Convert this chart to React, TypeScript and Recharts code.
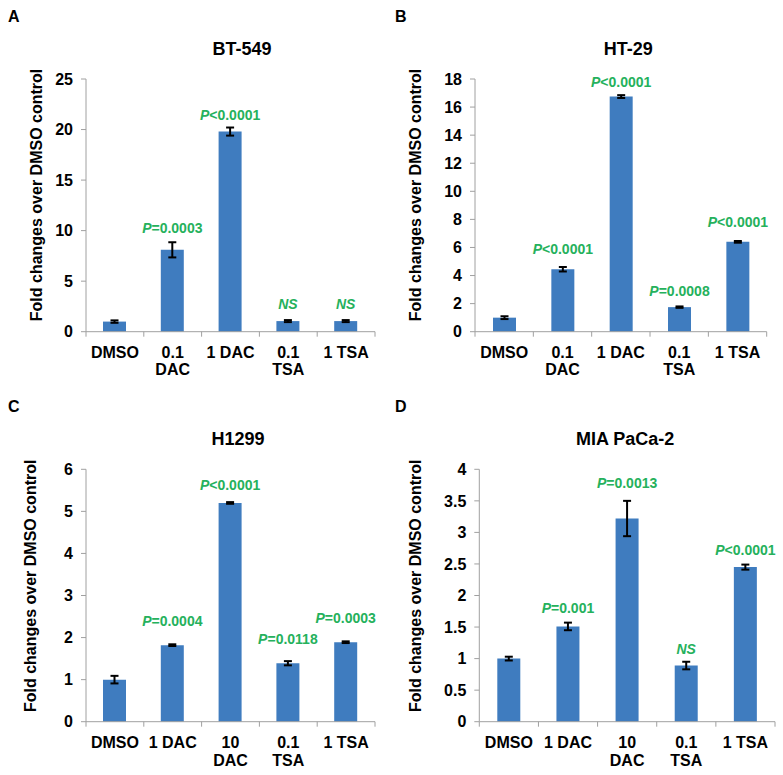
import React from 'react';
import { BarChart, Bar, XAxis, YAxis, ErrorBar, LabelList, Label } from 'recharts';

// ---------- data ----------
const catsAB = ['DMSO', '0.1\nDAC', '1 DAC', '0.1\nTSA', '1 TSA'];
const catsCD = ['DMSO', '1 DAC', '10\nDAC', '0.1\nTSA', '1 TSA'];

const valsA = [1.0, 8.1, 19.8, 1.05, 1.05];
const errA = [0.12, 0.75, 0.4, 0.1, 0.1];
const pA = ['', 'P=0.0003', 'P<0.0001', 'NS', 'NS'];
const ticksA = [0, 5, 10, 15, 20, 25];

const valsB = [1.0, 4.45, 16.75, 1.75, 6.4];
const errB = [0.1, 0.16, 0.1, 0.05, 0.06];
const pB = ['', 'P<0.0001', 'P<0.0001', 'P=0.0008', 'P<0.0001'];
const ticksB = [0, 2, 4, 6, 8, 10, 12, 14, 16, 18];

const valsC = [1.0, 1.82, 5.2, 1.39, 1.89];
const errC = [0.09, 0.02, 0.02, 0.05, 0.02];
const pC = ['', 'P=0.0004', 'P<0.0001', 'P=0.0118', 'P=0.0003'];
const ticksC = [0, 1, 2, 3, 4, 5, 6];

const valsD = [1.0, 1.51, 3.22, 0.89, 2.45];
const errD = [0.03, 0.06, 0.28, 0.06, 0.04];
const pD = ['', 'P=0.001', 'P=0.0013', 'NS', 'P<0.0001'];
const ticksD = [0, 0.5, 1, 1.5, 2, 2.5, 3, 3.5, 4];

// ---------- style ----------
const FONT = '"Liberation Sans", Arial, Helvetica, sans-serif';
const BLUE = '#3f7cbf';
const GREEN = '#25b15c';
const AXIS = '#a0a0a0';

type Layout = {
  left: number; top: number; w: number; h: number;
  plotLeft: number; plotRight: number; plotTop: number; plotBottom: number;
  letter: string; letterX: number; letterY: number;
  title: string; titleX: number; titleY: number;
  yLabX: number; yLabY: number;
  line1: number; line2: number;
  lifts: number[];
};

const build = (cats: string[], vals: number[], errs: number[], ps: string[]) =>
  cats.map((c, i) => ({ cat: c, value: vals[i], err: errs[i], p: ps[i] }));

const panels: { data: any[]; ticks: number[]; L: Layout }[] = [
  {
    data: build(catsAB, valsA, errA, pA), ticks: ticksA,
    L: { left: 0, top: 0, w: 390, h: 380, plotLeft: 86, plotRight: 375, plotTop: 79, plotBottom: 331.7,
      letter: 'A', letterX: 8, letterY: 21.7, title: 'BT-549', titleX: 242, titleY: 55,
      yLabX: 41.7, yLabY: 195, line1: 26.3, line2: 43.3, lifts: [0, 9.5, 7.7, 10.8, 10.8] },
  },
  {
    data: build(catsAB, valsB, errB, pB), ticks: ticksB,
    L: { left: 390, top: 0, w: 393, h: 380, plotLeft: 85, plotRight: 376.7, plotTop: 79, plotBottom: 331.7,
      letter: 'B', letterX: 5, letterY: 21.7, title: 'HT-29', titleX: 238.3, titleY: 54.5,
      yLabX: 30.7, yLabY: 195, line1: 26.3, line2: 43.3, lifts: [0, 13, 7.8, 10.4, 14] },
  },
  {
    data: build(catsCD, valsC, errC, pC), ticks: ticksC,
    L: { left: 0, top: 380, w: 390, h: 395, plotLeft: 86, plotRight: 375, plotTop: 89.3, plotBottom: 341.7,
      letter: 'C', letterX: 8, letterY: 31.7, title: 'H1299', titleX: 238, titleY: 65,
      yLabX: 36, yLabY: 205.8, line1: 26.6, line2: 44.5, lifts: [0, 18.6, 12, 17.4, 18] },
  },
  {
    data: build(catsCD, valsD, errD, pD), ticks: ticksD,
    L: { left: 390, top: 380, w: 393, h: 395, plotLeft: 89.3, plotRight: 385, plotTop: 89.3, plotBottom: 341.7,
      letter: 'D', letterX: 5, letterY: 31.7, title: 'MIA PaCa-2', titleX: 235.2, titleY: 65,
      yLabX: 30.7, yLabY: 205.8, line1: 26.6, line2: 44.5, lifts: [0, 9.4, 12.6, 7.8, 9.3] },
  },
];

const makeXTick = (L: Layout, n: number) => (props: any) => {
  const { x, payload, index } = props;
  const band = (L.plotRight - L.plotLeft) / n;
  const lines = String(payload.value).split('\n');
  const y0 = L.plotBottom;
  return (
    <g>
      <line x1={x - band / 2} x2={x - band / 2} y1={y0} y2={y0 + 5} stroke={AXIS} strokeWidth={1} />
      {index === n - 1 && (
        <line x1={x + band / 2} x2={x + band / 2} y1={y0} y2={y0 + 5} stroke={AXIS} strokeWidth={1} />
      )}
      {lines.map((t, i) => (
        <text key={i} x={x} y={y0 + (i === 0 ? L.line1 : L.line2)} textAnchor="middle"
          fontFamily={FONT} fontSize={16} fontWeight="bold" fill="#000">{t}</text>
      ))}
    </g>
  );
};

const makePLabel = (data: any[], L: Layout) => (props: any) => {
  const { x, y, width, height, index } = props;
  const d = data[index];
  if (!d || !d.p) return null;
  const pxPerUnit = d.value ? height / d.value : 0;
  const errTop = y - d.err * pxPerUnit;
  const by = errTop - L.lifts[index];
  const cx = x + width / 2;
  const isNS = d.p === 'NS';
  return (
    <text x={cx} y={by} textAnchor="middle" fontFamily={FONT} fontSize={14} fontWeight="bold" fill={GREEN}>
      {isNS ? (
        <tspan fontStyle="italic">NS</tspan>
      ) : (
        <>
          <tspan fontStyle="italic">P</tspan>
          <tspan>{d.p.slice(1)}</tspan>
        </>
      )}
    </text>
  );
};

function Panel({ data, ticks, L }: { data: any[]; ticks: number[]; L: Layout }) {
  const yMax = ticks[ticks.length - 1];
  return (
    <div style={{ position: 'absolute', left: L.left, top: L.top, width: L.w, height: L.h }}>
      <BarChart
        width={L.w}
        height={L.h}
        data={data}
        margin={{ top: L.plotTop, right: L.w - L.plotRight, left: 0, bottom: 0 }}
        barSize={23}
      >
        <XAxis
          dataKey="cat"
          height={L.h - L.plotBottom}
          axisLine={{ stroke: AXIS, strokeWidth: 1 }}
          tickLine={false}
          interval={0}
          tick={makeXTick(L, data.length)}
        />
        <YAxis
          width={L.plotLeft}
          domain={[0, yMax]}
          ticks={ticks}
          interval={0}
          axisLine={{ stroke: AXIS, strokeWidth: 1 }}
          tickLine={{ stroke: AXIS, strokeWidth: 1 }}
          tickSize={5}
          tickMargin={8}
          tick={{ fill: '#000', fontSize: 16, fontWeight: 'bold', fontFamily: FONT }}
        >
          <Label
            content={() => (
              <text
                x={L.yLabX}
                y={L.yLabY}
                transform={`rotate(-90 ${L.yLabX} ${L.yLabY})`}
                textAnchor="middle"
                fontFamily={FONT}
                fontSize={16}
                fontWeight="bold"
                fill="#000"
              >
                Fold changes over DMSO control
              </text>
            )}
          />
        </YAxis>
        <Bar dataKey="value" fill={BLUE} isAnimationActive={false}>
          <ErrorBar dataKey="err" width={4} strokeWidth={2} stroke="#000" direction="y" />
          <LabelList dataKey="p" content={makePLabel(data, L)} />
        </Bar>
      </BarChart>
      <svg width={L.w} height={L.h} style={{ position: 'absolute', left: 0, top: 0, pointerEvents: 'none' }}>
        <text x={L.letterX} y={L.letterY} fontFamily={FONT} fontSize={16} fontWeight="bold" fill="#000">{L.letter}</text>
        <text x={L.titleX} y={L.titleY} textAnchor="middle" fontFamily={FONT} fontSize={18} fontWeight="bold" fill="#000">{L.title}</text>
      </svg>
    </div>
  );
}

export default function App() {
  return (
    <div style={{ position: 'absolute', left: 0, top: 0, width: 783, height: 775, background: '#fff', overflow: 'hidden' }}>
      {panels.map((p, i) => (
        <Panel key={i} data={p.data} ticks={p.ticks} L={p.L} />
      ))}
    </div>
  );
}
